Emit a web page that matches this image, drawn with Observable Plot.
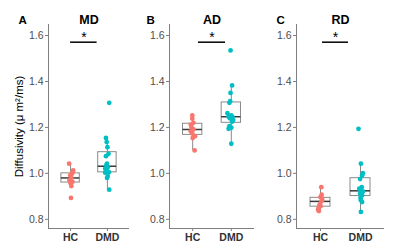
<!DOCTYPE html>
<html><head><meta charset="utf-8">
<script src="https://cdn.jsdelivr.net/npm/d3@7"></script>
<script src="https://cdn.jsdelivr.net/npm/@observablehq/plot@0.6"></script>
<style>
body{margin:0;background:#fff;}
#chart{position:relative;width:400px;height:251px;font-family:"Liberation Sans",Arial,sans-serif;}
#chart svg{position:absolute;top:0;}
</style></head><body><div id="chart"></div>
<script>
// ---- data ----
const groups = ["HC", "DMD"];
const groupColors = ["#F8766D", "#00BFC4"];
const measures = ["MD", "AD", "RD"];
const panelLetters = ["A", "B", "C"];
const yTicks = [0.8, 1.0, 1.2, 1.4, 1.6];
const yLabel = "Diffusivity (\u03bc m\u00b2/ms)";

const hcMD  = [1.042, 1.013, 1.003, 0.997, 0.991, 0.980, 0.970, 0.963, 0.957, 0.945, 0.893];
const dmdMD = [1.307, 1.154, 1.136, 1.114, 1.085, 1.075, 1.042, 1.035, 1.027, 1.020, 1.012, 1.005, 1.003, 0.988, 0.980, 0.929];
const hcAD  = [1.252, 1.238, 1.220, 1.212, 1.201, 1.191, 1.183, 1.173, 1.162, 1.154, 1.100];
const dmdAD = [1.535, 1.383, 1.350, 1.314, 1.307, 1.262, 1.252, 1.248, 1.245, 1.240, 1.232, 1.225, 1.205, 1.199, 1.194, 1.129];
const hcRD  = [0.940, 0.907, 0.897, 0.890, 0.883, 0.878, 0.865, 0.857, 0.853, 0.842, 0.836];
const dmdRD = [1.194, 1.042, 1.001, 0.991, 0.975, 0.940, 0.933, 0.926, 0.922, 0.919, 0.912, 0.904, 0.893, 0.883, 0.875, 0.832];

// horizontal jitter (in group units)
const hcMDJit  = [-0.04, 0.07, 0.05, 0.03, -0.01, 0.02, -0.03, 0.05, 0.00, 0.02, 0.01];
const dmdMDJit = [0.05, -0.04, -0.02, 0.00, 0.03, -0.04, -0.01, -0.03, 0.01, -0.06, -0.01, 0.04, -0.06, 0.01, -0.01, 0.05];
const hcADJit  = [-0.01, -0.01, 0.02, -0.05, -0.03, 0.02, -0.05, -0.01, 0.06, 0.00, 0.05];
const dmdADJit = [-0.02, 0.02, -0.02, -0.03, -0.05, -0.10, 0.00, -0.07, 0.03, -0.04, 0.05, 0.02, -0.05, 0.00, -0.07, 0.00];
const hcRDJit  = [0.02, 0.03, 0.00, 0.04, 0.04, 0.02, -0.02, 0.00, -0.04, -0.06, -0.04];
const dmdRDJit = [-0.05, 0.01, 0.06, 0.04, -0.01, 0.03, -0.03, 0.00, 0.06, 0.05, -0.01, 0.04, 0.00, 0.01, 0.04, 0.01];

const sigLabel = "*";
const sigY = 1.571;
const sigX1 = [1.00, 1.15, 1.05];
const sigX2 = [1.72, 1.85, 1.70];

// ---- layout ----
const layout = [
  {left: 0,   width: 131, marginLeft: 48, marginRight: 2},
  {left: 130, width: 126, marginLeft: 39, marginRight: 2},
  {left: 260, width: 130, marginLeft: 36, marginRight: 6}
];
const values = [[hcMD, dmdMD], [hcAD, dmdAD], [hcRD, dmdRD]];
const jitters = [[hcMDJit, dmdMDJit], [hcADJit, dmdADJit], [hcRDJit, dmdRDJit]];

function stats(vals, g) {
  const s = vals.slice().sort(d3.ascending);
  const q1 = d3.quantile(s, 0.25), med = d3.quantile(s, 0.5), q3 = d3.quantile(s, 0.75);
  const iqr = q3 - q1;
  const lo = d3.min(s.filter(v => v >= q1 - 1.5 * iqr));
  const hi = d3.max(s.filter(v => v <= q3 + 1.5 * iqr));
  return {g, q1, med, q3, lo, hi};
}

const yDomain = [0.76, 1.648];
const xDomain = [0.4, 2.6];
const boxStroke = "#8a8a8a";
const halfW = 0.25;

measures.forEach((m, p) => {
  const L = layout[p];
  const pts = [];
  values[p].forEach((vals, gi) => vals.forEach((v, i) => pts.push({g: gi + 1, grp: groups[gi], v, j: jitters[p][gi][i]})));
  const st = values[p].map((vals, gi) => stats(vals, gi + 1));
  const marks = [
    Plot.ruleX(st, {x: "g", y1: "lo", y2: "hi", stroke: boxStroke, strokeWidth: 1}),
    Plot.rect(st, {x1: d => d.g - halfW, x2: d => d.g + halfW, y1: "q1", y2: "q3", fill: "white", stroke: boxStroke, strokeWidth: 1}),
    Plot.ruleY(st, {x1: d => d.g - halfW, x2: d => d.g + halfW, y: "med", stroke: "#3a3a3a", strokeWidth: 1.5}),
    Plot.dot(pts, {x: d => d.g + d.j, y: "v", fill: "grp", r: 2.4}),
    Plot.ruleX([xDomain[0]], {stroke: "#7f7f7f", strokeWidth: 1}),
    Plot.ruleY([yDomain[0]], {stroke: "#7f7f7f", strokeWidth: 1}),
    Plot.axisY({ticks: yTicks, tickFormat: d3.format(".1f"), tickSize: 3, tickPadding: 2, stroke: "#7f7f7f", fill: "#4d4d4d", fontSize: 10.5, label: null}),
    Plot.axisX({ticks: [1, 2], tickFormat: d => groups[d - 1], tickSize: 3, tickPadding: 2, stroke: "#7f7f7f", fill: "#333", fontSize: 10.5, fontWeight: "bold", label: null}),
    Plot.ruleY([sigY], {x1: sigX1[p], x2: sigX2[p], stroke: "black", strokeWidth: 1.5}),
    Plot.text([sigLabel], {x: (sigX1[p] + sigX2[p]) / 2, y: sigY, dy: -5, fontSize: 14, fill: "black"}),
    Plot.text([m], {frameAnchor: "top", dy: -9, fontSize: 12.5, fontWeight: "bold", fill: "black"}),
    Plot.text([panelLetters[p]], {frameAnchor: "top-left", dx: (p === 0 ? 18 : 16) - L.marginLeft, dy: -9, fontSize: 11.5, fontWeight: "bold", fill: "black"})
  ];
  if (p === 0) marks.push(Plot.text([yLabel], {frameAnchor: "left", textAnchor: "middle", dx: -29, rotate: -90, fontSize: 11.5, fill: "black"}));
  const svg = Plot.plot({
    width: L.width, height: 251,
    marginTop: 24, marginBottom: 23, marginLeft: L.marginLeft, marginRight: L.marginRight,
    style: {fontFamily: "'Liberation Sans', Arial, sans-serif", background: "transparent", overflow: "visible"},
    x: {domain: xDomain},
    y: {domain: yDomain},
    color: {domain: groups, range: groupColors},
    marks
  });
  svg.style.left = L.left + "px";
  document.getElementById("chart").appendChild(svg);
});
</script></body></html>
